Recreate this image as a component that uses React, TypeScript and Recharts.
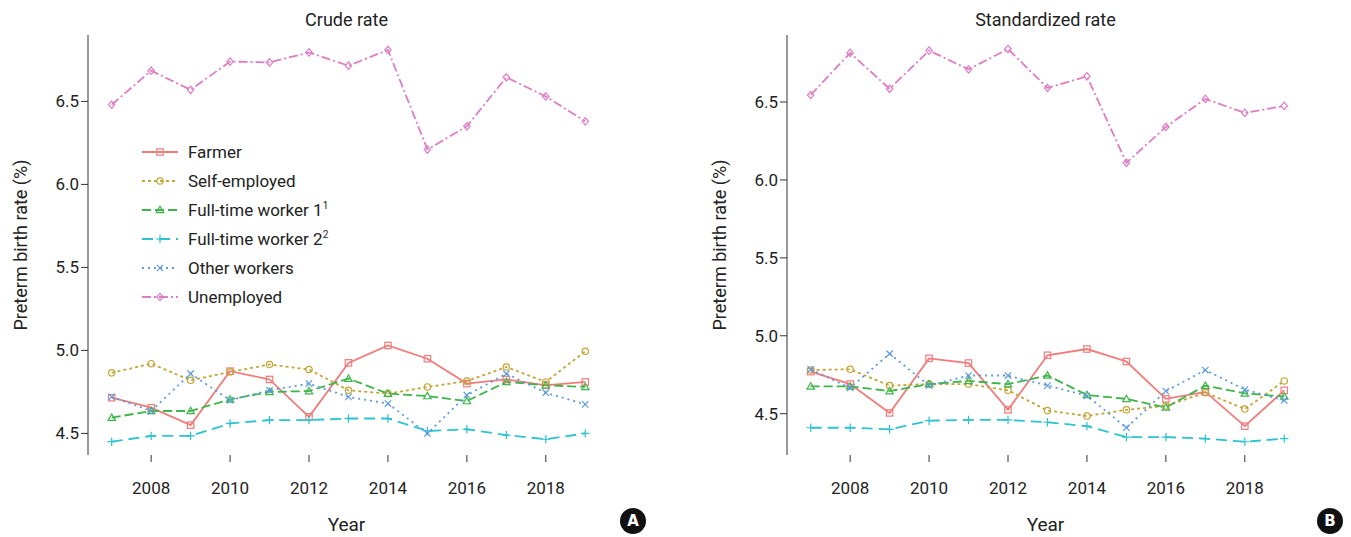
import React from "react";
import { LineChart, Line, XAxis, YAxis } from "recharts";

const years = [2007, 2008, 2009, 2010, 2011, 2012, 2013, 2014, 2015, 2016, 2017, 2018, 2019];
const xTicks = [2008, 2010, 2012, 2014, 2016, 2018];
const yTicks = [4.5, 5.0, 5.5, 6.0, 6.5];

const crudeFarmer = [4.715, 4.655, 4.55, 4.875, 4.825, 4.6, 4.925, 5.03, 4.95, 4.8, 4.825, 4.79, 4.81];
const crudeSelf = [4.865, 4.92, 4.82, 4.87, 4.915, 4.885, 4.76, 4.74, 4.78, 4.815, 4.9, 4.81, 4.995];
const crudeFT1 = [4.595, 4.635, 4.635, 4.705, 4.75, 4.755, 4.83, 4.74, 4.725, 4.695, 4.81, 4.79, 4.78];
const crudeFT2 = [4.45, 4.485, 4.485, 4.56, 4.58, 4.58, 4.59, 4.59, 4.515, 4.525, 4.49, 4.465, 4.5];
const crudeOther = [4.72, 4.635, 4.86, 4.7, 4.76, 4.8, 4.72, 4.68, 4.5, 4.73, 4.86, 4.745, 4.675];
const crudeUnemp = [6.48, 6.685, 6.57, 6.74, 6.735, 6.795, 6.715, 6.81, 6.21, 6.35, 6.645, 6.53, 6.38];

const stdFarmer = [4.77, 4.69, 4.505, 4.855, 4.825, 4.525, 4.875, 4.915, 4.835, 4.595, 4.64, 4.42, 4.65];
const stdSelf = [4.78, 4.785, 4.68, 4.69, 4.69, 4.65, 4.52, 4.485, 4.525, 4.55, 4.635, 4.53, 4.71];
const stdFT1 = [4.675, 4.675, 4.645, 4.69, 4.71, 4.69, 4.745, 4.62, 4.595, 4.54, 4.68, 4.63, 4.61];
const stdFT2 = [4.41, 4.41, 4.4, 4.455, 4.46, 4.46, 4.445, 4.42, 4.35, 4.35, 4.34, 4.32, 4.34];
const stdOther = [4.785, 4.665, 4.885, 4.68, 4.745, 4.745, 4.68, 4.615, 4.41, 4.645, 4.78, 4.655, 4.585];
const stdUnemp = [6.545, 6.815, 6.585, 6.83, 6.71, 6.84, 6.59, 6.665, 6.11, 6.34, 6.52, 6.43, 6.475];

const seriesNames = ["Farmer", "Self-employed", "Full-time worker 1", "Full-time worker 2", "Other workers", "Unemployed"];
const keys = ["farmer", "self", "ft1", "ft2", "other", "unemp"];
const colors = ["#f27a7a", "#c4a535", "#3cb54a", "#2bc3cf", "#5a9be0", "#e07bc6"];
const dashes = ["", "3 3", "9 4", "11 6", "2 4", "9 3 2 3"];
const markers = ["square", "circle", "triangle", "plus", "x", "diamond"];

function build(arrs: number[][]) {
  return years.map((y, i) => {
    const o: any = { year: y };
    keys.forEach((k, j) => (o[k] = arrs[j][i]));
    return o;
  });
}
const crudeData = build([crudeFarmer, crudeSelf, crudeFT1, crudeFT2, crudeOther, crudeUnemp]);
const stdData = build([stdFarmer, stdSelf, stdFT1, stdFT2, stdOther, stdUnemp]);

function Marker({ cx, cy, type, color }: any) {
  const s = 3.2;
  const p = { stroke: color, strokeWidth: 1.2, fill: "none" };
  if (type === "square") return <rect x={cx - s} y={cy - s} width={2 * s} height={2 * s} {...p} />;
  if (type === "circle") return <circle cx={cx} cy={cy} r={s} {...p} />;
  if (type === "triangle") return <polygon points={`${cx},${cy - s - 0.5} ${cx - s - 0.5},${cy + s - 0.5} ${cx + s + 0.5},${cy + s - 0.5}`} {...p} />;
  if (type === "plus") return <path d={`M${cx - s - 1},${cy}H${cx + s + 1}M${cx},${cy - s - 1}V${cy + s + 1}`} {...p} />;
  if (type === "x") return <path d={`M${cx - s},${cy - s}L${cx + s},${cy + s}M${cx - s},${cy + s}L${cx + s},${cy - s}`} {...p} />;
  return <polygon points={`${cx},${cy - s - 0.5} ${cx + s},${cy} ${cx},${cy + s + 0.5} ${cx - s},${cy}`} {...p} />;
}

const font = "Roboto, 'Noto Sans', sans-serif";
const tickStyle = { fontSize: 17, fill: "#222", fontFamily: font };

function Panel({ data, title, domain, left }: any) {
  return (
    <div style={{ position: "absolute", left, top: 0 }}>
      <LineChart width={640} height={537} data={data} margin={{ top: 35, right: 35, left: 28, bottom: 52 }}>
        <XAxis dataKey="year" type="number" domain={[2006.4, 2019.5]} ticks={xTicks} axisLine={false}
          tickLine={{ stroke: "#333" }} tickSize={7} tick={{ ...tickStyle, dy: 18 }} height={30} allowDataOverflow />
        <YAxis type="number" domain={domain} ticks={yTicks} tick={tickStyle} tickFormatter={(v: number) => v.toFixed(1)}
          axisLine={{ stroke: "#333" }} tickLine={{ stroke: "#333" }} tickSize={7} width={60} allowDataOverflow />
        {keys.map((k, j) => (
          <Line key={k} dataKey={k} stroke={colors[j]} strokeWidth={1.8} strokeDasharray={dashes[j] || undefined}
            isAnimationActive={false}
            dot={(p: any) => <Marker key={p.index} cx={p.cx} cy={p.cy} type={markers[j]} color={colors[j]} />} />
        ))}
      </LineChart>
      <div style={{ position: "absolute", left: 88, width: 517, top: 9, textAlign: "center", fontSize: 18, fontFamily: font, color: "#222" }}>{title}</div>
      <div style={{ position: "absolute", left: 88, width: 517, top: 513, textAlign: "center", fontSize: 19, fontFamily: font, color: "#222" }}>Year</div>
      <div style={{ position: "absolute", left: 20, top: 245, width: 0, height: 0 }}>
        <div style={{ position: "absolute", transform: "translate(-50%,-50%) rotate(-90deg)", whiteSpace: "nowrap", fontSize: 18, fontFamily: font, color: "#222" }}>Preterm birth rate (%)</div>
      </div>
    </div>
  );
}

function Legend() {
  return (
    <div style={{ position: "absolute", left: 140, top: 137, fontFamily: font, fontSize: 17, color: "#222" }}>
      {seriesNames.map((n, j) => (
        <div key={n} style={{ display: "flex", alignItems: "center", height: 29 }}>
          <svg width={40} height={14} style={{ marginRight: 8 }}>
            <line x1={2} y1={7} x2={38} y2={7} stroke={colors[j]} strokeWidth={1.8} strokeDasharray={dashes[j] || undefined} />
            <Marker cx={20} cy={7} type={markers[j]} color={colors[j]} />
          </svg>
          <span>{n}{j === 2 ? <sup style={{ fontSize: 10 }}>1</sup> : null}{j === 3 ? <sup style={{ fontSize: 10 }}>2</sup> : null}</span>
        </div>
      ))}
    </div>
  );
}

function Badge({ left, label }: any) {
  return (
    <div style={{ position: "absolute", left: left - 13, top: 508, width: 26, height: 26, borderRadius: 13, background: "#111", color: "#fff", fontFamily: "'DejaVu Sans', sans-serif", fontWeight: "bold", fontSize: 15, display: "flex", alignItems: "center", justifyContent: "center" }}>{label}</div>
  );
}

export default function App() {
  return (
    <div style={{ position: "absolute", left: 0, top: 0, width: 1351, height: 537, background: "#fff" }}>
      <Panel data={crudeData} title="Crude rate" domain={[4.37, 6.9]} left={0} />
      <Panel data={stdData} title="Standardized rate" domain={[4.235, 6.93]} left={699} />
      <Legend />
      <Badge left={633} label="A" />
      <Badge left={1330} label="B" />
    </div>
  );
}
